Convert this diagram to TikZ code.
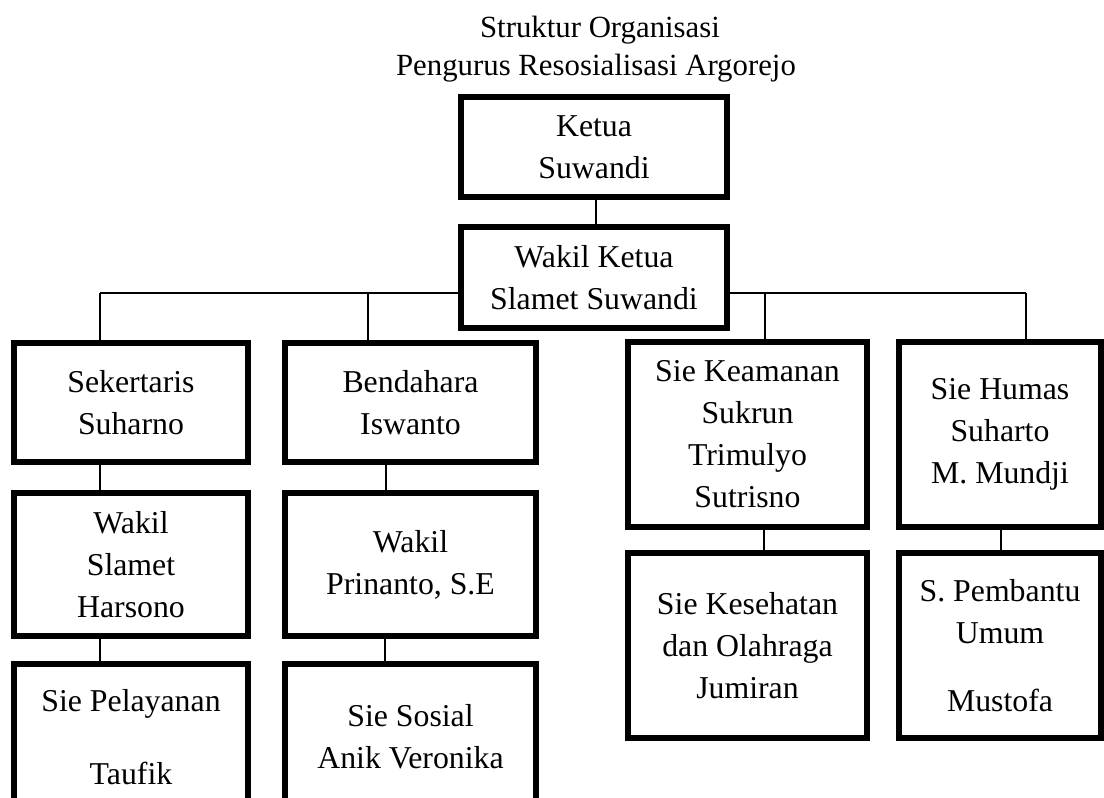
\documentclass[tikz,border=0pt]{standalone}
\usepackage{fontspec}
\setmainfont{Liberation Serif}
\usepackage{tikz}

\begin{document}
\begin{tikzpicture}[
  x = 1pt, y = -1pt,
  box/.style = {draw, line width = 5.5pt, fill = white, align = center,
    inner sep = 0pt, outer sep = 0pt,
    font = \fontsize{31.8}{42}\selectfont},
  link/.style = {line width = 1.4pt},
  heading/.style = {anchor = base, font = \fontsize{30.8}{38}\selectfont}
]

\useasboundingbox (0,0) rectangle (1104,798);
\clip (0,0) rectangle (1104,798);

\node [heading] (title) at (600,37) {Struktur Organisasi};
\node [heading] (subtitle) at (596,75) {Pengurus Resosialisasi Argorejo};

\node [box, minimum width = 266pt, minimum height = 100pt] (ketua) at (594,147) {Ketua\\Suwandi};
\node [box, minimum width = 266pt, minimum height = 101pt] (wakilketua) at (594,277.5) {Wakil Ketua\\Slamet Suwandi};

\node [box, minimum width = 234pt, minimum height = 119pt] (sekretaris) at (131,402.5) {Sekertaris\\Suharno};
\node [box, minimum width = 251pt, minimum height = 119pt] (bendahara) at (410.5,402.5) {Bendahara\\Iswanto};
\node [box, minimum width = 239pt, minimum height = 185pt] (keamanan) at (747.5,434.5) {Sie Keamanan\\Sukrun\\Trimulyo\\Sutrisno};
\node [box, minimum width = 202pt, minimum height = 185pt] (humas) at (1000,434.5) {Sie Humas\\Suharto\\M. Mundji};

\node [box, minimum width = 234pt, minimum height = 143pt] (wakilsek) at (131,564.5) {Wakil\\Slamet\\Harsono};
\node [box, minimum width = 251pt, minimum height = 143pt] (wakilbend) at (410.5,564.5) {Wakil\\Prinanto, S.E};
\node [box, minimum width = 239pt, minimum height = 185pt] (kesehatan) at (747.5,645.5) {Sie Kesehatan\\dan Olahraga\\Jumiran};
\node [box, minimum width = 202pt, minimum height = 185pt] (pembantu) at (1000,645.5) {S. Pembantu\\Umum\\[26pt]Mustofa};

\node [box, minimum width = 234pt, minimum height = 146pt] (pelayanan) at (131,737) {Sie Pelayanan\\[31pt]Taufik};
\node [box, minimum width = 251pt, minimum height = 146pt] (sosial) at (410.5,737) {Sie Sosial\\Anik Veronika};

\coordinate (busL) at (100,293);
\coordinate (busR) at (1026,293);

\draw [link] ([xshift=2pt]ketua.south) -- ([xshift=2pt]wakilketua.north);
\draw [link] (busL) -- (wakilketua.west |- busL);
\draw [link] (wakilketua.east |- busR) -- (busR);
\draw [link] (busL) -- (busL |- sekretaris.north);
\draw [link] ([xshift=-42.5pt]bendahara.north |- busL) -- ([xshift=-42.5pt]bendahara.north);
\draw [link] ([xshift=17.5pt]keamanan.north |- busL) -- ([xshift=17.5pt]keamanan.north);
\draw [link] (busR) -- (busR |- humas.north);

\draw [link] ([xshift=-31pt]sekretaris.south) -- ([xshift=-31pt]wakilsek.north);
\draw [link] ([xshift=-24.5pt]bendahara.south) -- ([xshift=-24.5pt]wakilbend.north);
\draw [link] ([xshift=-31pt]wakilsek.south) -- ([xshift=-31pt]pelayanan.north);
\draw [link] ([xshift=-25.5pt]wakilbend.south) -- ([xshift=-25.5pt]sosial.north);
\draw [link] ([xshift=16.5pt]keamanan.south) -- ([xshift=16.5pt]kesehatan.north);
\draw [link] ([xshift=1pt]humas.south) -- ([xshift=1pt]pembantu.north);

\end{tikzpicture}
\end{document}
